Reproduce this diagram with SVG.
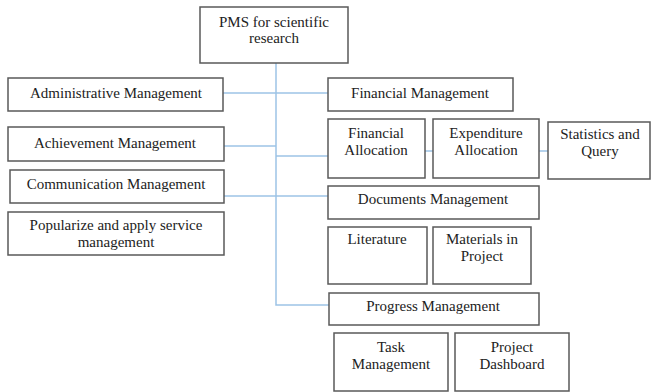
<svg xmlns="http://www.w3.org/2000/svg" width="651" height="392" viewBox="0 0 651 392">
<style>
.box{fill:#fff;stroke:#595959;stroke-width:1.5}
.t{font-family:'Liberation Serif','Times New Roman',serif;font-size:15px;fill:#222;text-anchor:middle}
.c{stroke:#9dc3e6;stroke-width:1.5;fill:none}
</style>
<rect width="651" height="392" fill="#fff"/>
<g id="connectors">
<path class="c" d="M276 63 V305 H329"/>
<path class="c" d="M223 93 H329"/>
<path class="c" d="M224 146 H276"/>
<path class="c" d="M276 156 H329"/>
<path class="c" d="M224 196 H329"/>
<path class="c" d="M425 151 H433"/>
<path class="c" d="M539 151 H548"/>
</g>
<g id="pms"><rect class="box" x="200" y="7" width="148" height="56"/><text class="t" x="274" y="27">PMS for scientific</text><text class="t" x="274" y="43">research</text></g>
<g id="admin"><rect class="box" x="8" y="78" width="215" height="33"/><text class="t" x="116" y="98">Administrative Management</text></g>
<g id="achieve"><rect class="box" x="8" y="127" width="216" height="34"/><text class="t" x="115" y="148">Achievement Management</text></g>
<g id="comm"><rect class="box" x="10" y="170" width="214" height="33"/><text class="t" x="116" y="189">Communication Management</text></g>
<g id="popular"><rect class="box" x="8" y="212" width="216" height="43"/><text class="t" x="116" y="230">Popularize and apply service</text><text class="t" x="116" y="247">management</text></g>
<g id="finmgmt"><rect class="box" x="328" y="78" width="185" height="33"/><text class="t" x="420" y="98">Financial Management</text></g>
<g id="finalloc"><rect class="box" x="328" y="119" width="97" height="59"/><text class="t" x="376" y="138">Financial</text><text class="t" x="376" y="155">Allocation</text></g>
<g id="expalloc"><rect class="box" x="433" y="119" width="106" height="59"/><text class="t" x="486" y="138">Expenditure</text><text class="t" x="486" y="155">Allocation</text></g>
<g id="stats"><rect class="box" x="548" y="122" width="102" height="57"/><text class="t" x="600" y="139">Statistics and</text><text class="t" x="600" y="156">Query</text></g>
<g id="docs"><rect class="box" x="328" y="186" width="211" height="33"/><text class="t" x="433" y="204">Documents Management</text></g>
<g id="lit"><rect class="box" x="328" y="227" width="99" height="57"/><text class="t" x="377" y="244">Literature</text></g>
<g id="materials"><rect class="box" x="433" y="227" width="98" height="57"/><text class="t" x="482" y="244">Materials in</text><text class="t" x="482" y="261">Project</text></g>
<g id="progress"><rect class="box" x="329" y="293" width="210" height="32"/><text class="t" x="433" y="311">Progress Management</text></g>
<g id="task"><rect class="box" x="334" y="333" width="114" height="58"/><text class="t" x="391" y="352">Task</text><text class="t" x="391" y="369">Management</text></g>
<g id="dashboard"><rect class="box" x="455" y="333" width="114" height="58"/><text class="t" x="512" y="352">Project</text><text class="t" x="512" y="369">Dashboard</text></g>
</svg>
